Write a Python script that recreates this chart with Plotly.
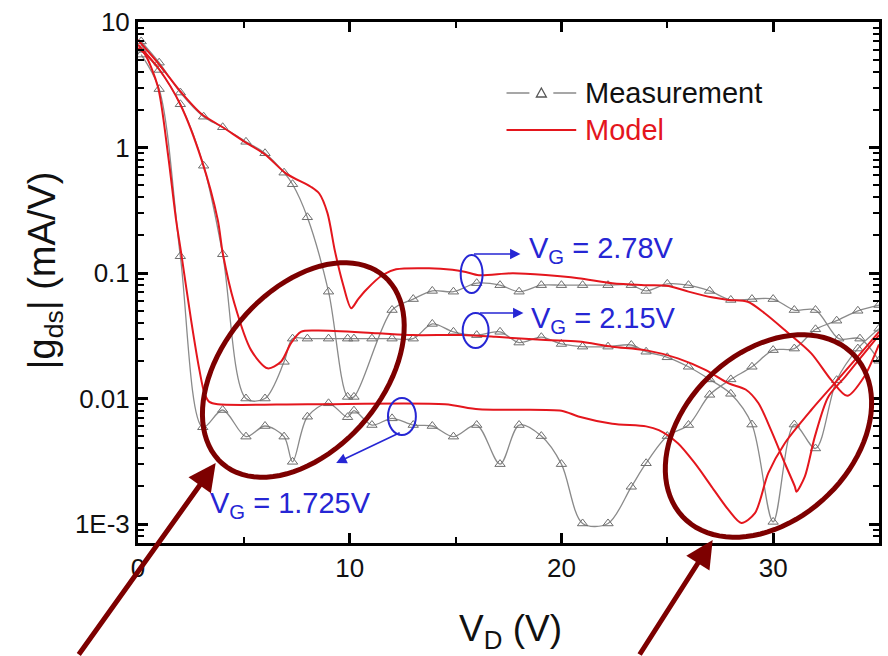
import math
import plotly.graph_objects as go

# ---- measured |g_ds| (mA/V) versus V_D (V) ----
vd_m278 = [0.15, 1.0, 2.0, 3.1, 4.0, 5.1, 6.0, 6.9, 7.3, 8.0, 9.0, 9.9, 10.2, 12.0, 13.0, 13.9,
           14.9, 16.0, 17.1, 18.0, 19.05, 20.0, 21.0, 22.2, 23.3, 24.0, 25.0, 26.0, 27.0, 28.0,
           29.0, 30.0, 31.0, 32.0, 33.1, 34.1, 35.0]
gds_m278 = [7.0, 4.74, 2.74, 1.76, 1.45, 1.11, 0.90, 0.63, 0.51, 0.278, 0.071, 0.0103, 0.0103,
            0.0507, 0.062, 0.072, 0.071, 0.083, 0.080, 0.071, 0.080, 0.080, 0.080, 0.080, 0.080,
            0.072, 0.082, 0.080, 0.072, 0.061, 0.062, 0.062, 0.0507, 0.0507, 0.030, 0.030, 0.020]

vd_m215 = [0.15, 1.0, 2.0, 3.1, 4.0, 5.1, 6.0, 6.9, 7.3, 8.0, 9.0, 9.9, 10.2, 11.05, 12.0, 13.0,
           13.9, 14.9, 16.0, 17.1, 18.0, 19.05, 20.0, 21.0, 22.2, 23.3, 24.0, 25.0, 26.0, 27.0,
           28.0, 29.0, 30.0, 31.0, 32.0, 33.0, 34.0, 35.0]
gds_m215 = [6.0, 4.15, 2.21, 0.716, 0.141, 0.0100, 0.0100, 0.0196, 0.030, 0.030, 0.030, 0.030,
            0.030, 0.030, 0.030, 0.030, 0.0393, 0.034, 0.032, 0.034, 0.0279, 0.0308, 0.0272,
            0.0259, 0.0259, 0.0267, 0.0236, 0.0213, 0.0179, 0.0142, 0.0109, 0.0062, 0.00104,
            0.0062, 0.0040, 0.014, 0.025, 0.036]

vd_m1725 = [0.15, 1.0, 2.0, 3.06, 4.0, 5.1, 6.0, 6.9, 7.3, 8.0, 9.0, 9.9, 10.2, 11.05, 12.0,
            13.0, 13.9, 14.9, 16.0, 17.1, 18.0, 19.05, 20.0, 21.0, 22.2, 23.3, 24.0, 25.0, 26.0,
            27.0, 28.0, 29.0, 30.0, 31.0, 32.0, 33.0, 34.0, 35.0]
gds_m1725 = [5.5, 2.92, 0.136, 0.0059, 0.0081, 0.00497, 0.00604, 0.00497, 0.00313, 0.00716,
             0.00916, 0.0071, 0.0080, 0.00615, 0.00695, 0.00615, 0.00604, 0.00497, 0.00615,
             0.0030, 0.00615, 0.00502, 0.0030, 0.00101, 0.00101, 0.00198, 0.00305, 0.00502,
             0.00615, 0.0107, 0.0142, 0.0179, 0.0243, 0.025, 0.0356, 0.0417, 0.050, 0.0556]

# ---- model |g_ds| (mA/V) versus V_D (V) ----
vd_s278 = [0.0, 1.0, 2.0, 3.0, 4.0, 5.0, 6.0, 7.0, 8.16, 8.56, 8.95, 9.3, 9.67, 10.07, 10.4,
           10.77, 11.55, 12.19, 13.75, 14.85, 15.48, 16.1, 17.7, 19.25, 20.8, 22.4, 24.0, 25.06,
           26.0, 27.1, 27.9, 28.8, 29.6, 30.55, 31.8, 32.75, 33.5, 34.3, 35.0]
gds_s278 = [7.2, 4.6, 2.8, 1.85, 1.45, 1.12, 0.88, 0.62, 0.487, 0.43, 0.30, 0.15, 0.083, 0.0524,
            0.062, 0.0733, 0.0964, 0.107, 0.109, 0.106, 0.102, 0.096, 0.0996, 0.0964, 0.091,
            0.083, 0.080, 0.0787, 0.0711, 0.064, 0.061, 0.059, 0.0478, 0.0351, 0.0229, 0.014,
            0.0105, 0.0149, 0.027]

vd_s215 = [0.0, 1.0, 2.0, 3.0, 3.77, 4.0, 4.55, 5.34, 6.12, 6.75, 7.22, 7.69, 8.48, 11.3, 12.97,
           15.3, 16.9, 19.25, 20.8, 22.4, 23.96, 25.5, 26.8, 27.9, 28.7, 29.3, 29.9, 30.55, 31.03,
           31.1, 31.5, 31.97, 32.6, 33.4, 34.3, 35.0]
gds_s215 = [6.6, 4.2, 2.2, 0.80, 0.264, 0.145, 0.0574, 0.0243, 0.0174, 0.0196, 0.0275, 0.034,
            0.0348, 0.0331, 0.032, 0.032, 0.031, 0.0292, 0.0284, 0.0259, 0.0243, 0.0209, 0.0169,
            0.0132, 0.0118, 0.0092, 0.0056, 0.00305, 0.00198, 0.00181, 0.0024, 0.00497, 0.0103,
            0.0149, 0.0229, 0.032]

vd_s1725 = [0.0, 0.31, 0.94, 1.41, 1.8, 2.04, 2.51, 2.9, 3.14, 3.37, 3.77, 8.0, 14.5, 16.1, 20.0,
            20.8, 22.4, 24.0, 24.6, 25.5, 26.3, 27.1, 27.9, 28.5, 29.14, 29.77, 30.55, 31.8,
            32.9, 34.0, 35.0]
gds_s1725 = [6.2, 5.6, 3.05, 0.9, 0.264, 0.144, 0.042, 0.0169, 0.011, 0.0094, 0.0090, 0.0090,
             0.0090, 0.0082, 0.0080, 0.0072, 0.0063, 0.0060, 0.0056, 0.0044, 0.00305, 0.00198,
             0.00129, 0.00102, 0.00122, 0.00254, 0.0044, 0.0081, 0.0132, 0.0216, 0.034]

x_tick_vals = [0, 10, 20, 30]
x_tick_text = ["0", "10", "20", "30"]
y_tick_vals = [1e-3, 1e-2, 1e-1, 1, 10]
y_tick_text = ["1E-3", "0.01", "0.1", "1", "10"]

GRAY = "#8a8a8a"
MARK = "#6e6e6e"
RED = "#e4161d"
MAROON = "#7d0000"
BLUE = "#2626d4"
FONT = "Liberation Sans, Arial, sans-serif"

# plot-area geometry in page pixels
L, T, R, B = 138, 22, 882, 543
W, H = R - L, B - T


def px(x):
    return (x - L) / W


def py(y):
    return (B - y) / H


fig = go.Figure()

for vd, g in [(vd_m278, gds_m278), (vd_m215, gds_m215), (vd_m1725, gds_m1725)]:
    fig.add_trace(go.Scatter(
        x=vd, y=g, mode="lines+markers",
        line=dict(color=GRAY, width=1.3, shape="spline", smoothing=0.9),
        marker=dict(symbol="triangle-up-open", size=9, color=MARK, line=dict(width=1)),
        showlegend=False, hoverinfo="skip"))

for vd, g in [(vd_s278, gds_s278), (vd_s215, gds_s215), (vd_s1725, gds_s1725)]:
    fig.add_trace(go.Scatter(
        x=vd, y=g, mode="lines",
        line=dict(color=RED, width=2, shape="spline", smoothing=0.8),
        showlegend=False, hoverinfo="skip"))

shapes = []
annotations = []


def tilted_ellipse(cx, cy, a, b, deg, n=90):
    th = math.radians(deg)
    pts = []
    for i in range(n + 1):
        t = 2 * math.pi * i / n
        x = cx + a * math.cos(t) * math.cos(th) - b * math.sin(t) * math.sin(th)
        y = cy - (a * math.cos(t) * math.sin(th) + b * math.sin(t) * math.cos(th))
        pts.append((px(x), py(y)))
    return "M " + " L ".join(f"{u:.5f},{v:.5f}" for u, v in pts) + " Z"


# highlighted regions
shapes.append(dict(type="path", xref="paper", yref="paper",
                   path=tilted_ellipse(304, 370, 124, 80, 49),
                   line=dict(color=MAROON, width=5)))
shapes.append(dict(type="path", xref="paper", yref="paper",
                   path=tilted_ellipse(771, 436, 118, 84, 43),
                   line=dict(color=MAROON, width=5)))

# pointer arrows coming from below the frame
for tip, tail in [((216, 463), (78, 660)), ((715, 540), (641, 660))]:
    annotations.append(dict(x=px(tip[0]), y=py(tip[1]), xref="paper", yref="paper",
                            ax=tail[0] - tip[0], ay=tail[1] - tip[1], text="",
                            showarrow=True, arrowhead=2, arrowsize=1.1, arrowwidth=5,
                            arrowcolor=MAROON))

# small blue circles marking each curve pair
for x0, y0, x1, y1 in [(462, 255, 484, 293), (464, 313, 490, 348), (389, 398, 417, 435)]:
    shapes.append(dict(type="circle", xref="paper", yref="paper",
                       x0=px(x0), x1=px(x1), y0=py(y1), y1=py(y0),
                       line=dict(color=BLUE, width=2)))

for tip, tail in [((522, 254), (474, 254)), ((525, 313), (480, 313)), ((337, 463), (402, 432))]:
    annotations.append(dict(x=px(tip[0]), y=py(tip[1]), xref="paper", yref="paper",
                            ax=tail[0] - tip[0], ay=tail[1] - tip[1], text="",
                            showarrow=True, arrowhead=2, arrowsize=1.3, arrowwidth=1.6,
                            arrowcolor=BLUE))

for txt, x, y in [("V<sub>G</sub> = 2.78V", 529, 250), ("V<sub>G</sub> = 2.15V", 531, 320),
                  ("V<sub>G</sub> = 1.725V", 208, 505)]:
    annotations.append(dict(x=px(x), y=py(y), xref="paper", yref="paper", text=txt,
                            showarrow=False, xanchor="left", yanchor="middle",
                            font=dict(family=FONT, size=29, color=BLUE)))

# legend
shapes.append(dict(type="line", xref="paper", yref="paper", x0=px(508), x1=px(531),
                   y0=py(93), y1=py(93), line=dict(color=GRAY, width=1.5)))
shapes.append(dict(type="line", xref="paper", yref="paper", x0=px(555), x1=px(578),
                   y0=py(93), y1=py(93), line=dict(color=GRAY, width=1.5)))
tri = [(543, 88), (538, 97), (548, 97)]
shapes.append(dict(type="path", xref="paper", yref="paper",
                   path="M " + " L ".join(f"{px(a):.5f},{py(b):.5f}" for a, b in tri) + " Z",
                   line=dict(color="#555555", width=1.3)))
shapes.append(dict(type="line", xref="paper", yref="paper", x0=px(508), x1=px(578),
                   y0=py(130), y1=py(130), line=dict(color=RED, width=2)))
annotations.append(dict(x=px(585), y=py(93), xref="paper", yref="paper", text="Measurement",
                        showarrow=False, xanchor="left", yanchor="middle",
                        font=dict(family=FONT, size=29, color="#111111")))
annotations.append(dict(x=px(585), y=py(130), xref="paper", yref="paper", text="Model",
                        showarrow=False, xanchor="left", yanchor="middle",
                        font=dict(family=FONT, size=29, color=RED)))

# axis titles
annotations.append(dict(x=px(45), y=py(270), xref="paper", yref="paper",
                        text="|g<sub>ds</sub>| (mA/V)", textangle=-90, showarrow=False,
                        xanchor="center", yanchor="middle",
                        font=dict(family=FONT, size=38, color="#111111")))
annotations.append(dict(x=px(512), y=py(631), xref="paper", yref="paper",
                        text="V<sub>D</sub> (V)", showarrow=False,
                        xanchor="center", yanchor="middle",
                        font=dict(family=FONT, size=37, color="#111111")))

y_minor = [k * 10 ** e for e in range(-4, 1) for k in range(2, 10)]
y_minor = [v for v in y_minor if 7.06e-4 <= v <= 10]

fig.update_layout(
    width=888, height=656,
    margin=dict(l=L, r=888 - R, t=T, b=656 - B),
    paper_bgcolor="white", plot_bgcolor="white",
    shapes=shapes, annotations=annotations, showlegend=False,
    font=dict(family=FONT, color="#111111"),
    xaxis=dict(range=[0, 35], tickvals=x_tick_vals, ticktext=x_tick_text,
               ticks="inside", ticklen=10, tickwidth=2.5, tickcolor="black",
               showline=True, linewidth=3, linecolor="black", mirror="allticks",
               showgrid=False, zeroline=False,
               tickfont=dict(family=FONT, size=26, color="#111111"),
               minor=dict(tickvals=[5, 15, 25], ticks="inside", ticklen=6,
                          tickwidth=2, tickcolor="black", showgrid=False)),
    yaxis=dict(type="log", range=[math.log10(7.06e-4), 1],
               tickvals=y_tick_vals, ticktext=y_tick_text,
               ticks="inside", ticklen=10, tickwidth=2.5, tickcolor="black",
               showline=True, linewidth=3, linecolor="black", mirror="allticks",
               showgrid=False, zeroline=False,
               tickfont=dict(family=FONT, size=26, color="#111111"),
               minor=dict(tickvals=y_minor, ticks="inside", ticklen=6,
                          tickwidth=2, tickcolor="black", showgrid=False)),
)

fig.write_html("out.html")
